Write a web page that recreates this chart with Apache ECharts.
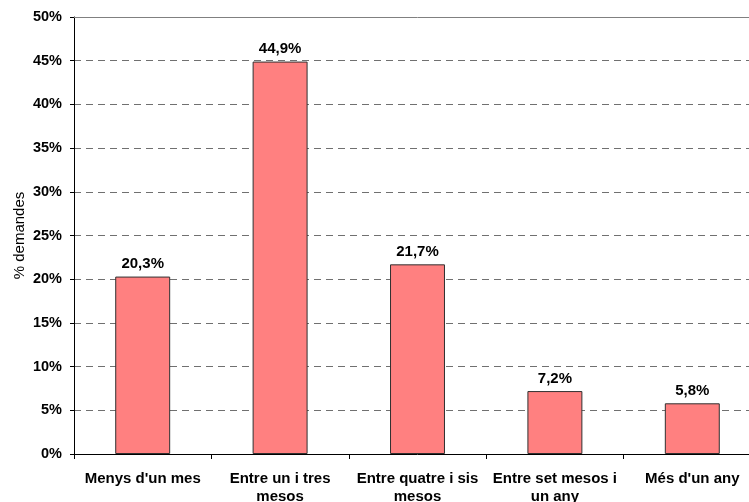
<!DOCTYPE html>
<html><head><meta charset="utf-8">
<script src="https://cdn.jsdelivr.net/npm/echarts@6/dist/echarts.min.js"></script>
<style>html,body{margin:0;padding:0;background:#fff;overflow:hidden}#c{width:761px;height:502px}</style>
</head><body><div id="c"></div>
<script>
const categories = ["Menys d'un mes", "Entre un i tres\nmesos", "Entre quatre i sis\nmesos", "Entre set mesos i\nun any", "Més d'un any"];
const values = [20.3, 44.9, 21.7, 7.2, 5.8];
const yTicks = [0, 5, 10, 15, 20, 25, 30, 35, 40, 45, 50];
const FONT = "'Liberation Sans', Arial, sans-serif";
const chart = echarts.init(document.getElementById('c'));
chart.setOption({
  animation: false,
  grid: { left: 74, right: 0, top: 17, bottom: 48, containLabel: false, outerBoundsMode: 'none' },
  xAxis: [{
    type: 'category', data: categories,
    axisLine: { lineStyle: { color: '#000', width: 1 } },
    axisTick: { show: true, alignWithLabel: false, length: 5, lineStyle: { color: '#000' } },
    axisLabel: { interval: 0, fontFamily: FONT, fontWeight: 'bold', fontSize: 15, color: '#000', lineHeight: 18, margin: 16 }
  }, {
    type: 'category', data: categories, position: 'top',
    axisLine: { show: true, lineStyle: { color: '#808080', width: 1 } },
    axisTick: { show: false }, axisLabel: { show: false }
  }],
  yAxis: {
    type: 'value', min: yTicks[0], max: yTicks[yTicks.length - 1], interval: 5,
    name: '% demandes', nameLocation: 'middle', nameGap: 47, nameMoveOverlap: false,
    nameTextStyle: { fontFamily: FONT, fontSize: 15, color: '#000' },
    axisLine: { show: true, lineStyle: { color: '#000' } },
    axisTick: { show: true, length: 4, lineStyle: { color: '#000' } },
    axisLabel: { formatter: v => v + '%', fontFamily: FONT, fontWeight: 'bold', fontSize: 14.5, color: '#000', margin: 12 },
    splitLine: { show: true, lineStyle: { type: [7, 5], color: '#707070', width: 1 } }
  },
  series: [{
    type: 'bar', data: values, barWidth: '40%',
    itemStyle: { color: '#FF8080', borderColor: '#303030', borderWidth: 1 },
    label: { show: true, position: 'top', distance: 5, formatter: p => p.value.toFixed(1).replace('.', ',') + '%',
      fontFamily: FONT, fontWeight: 'bold', fontSize: 15, color: '#000' }
  }]
});
</script></body></html>
